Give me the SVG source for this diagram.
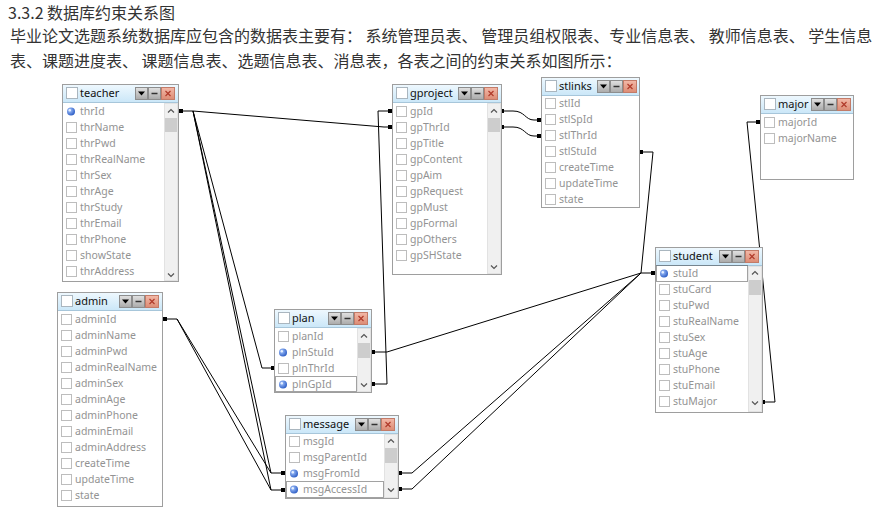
<svg xmlns="http://www.w3.org/2000/svg" xmlns:xlink="http://www.w3.org/1999/xlink" width="892" height="520" viewBox="0 0 892 520">
<defs>
<linearGradient id="tg" x1="0" y1="0" x2="0" y2="1"><stop offset="0" stop-color="#eef8fe"/><stop offset="1" stop-color="#cbe7f8"/></linearGradient>
<linearGradient id="bg" x1="0" y1="0" x2="0" y2="1"><stop offset="0" stop-color="#e2e2e2"/><stop offset="1" stop-color="#a9a9a9"/></linearGradient>
<linearGradient id="rg" x1="0" y1="0" x2="0" y2="1"><stop offset="0" stop-color="#f3b9a8"/><stop offset="1" stop-color="#dc8b74"/></linearGradient>
<radialGradient id="kg" cx="0.35" cy="0.35" r="0.7"><stop offset="0" stop-color="#a9c8ff"/><stop offset="1" stop-color="#2b5cc4"/></radialGradient>
<g id="btns">
<rect x="0.5" y="0.5" width="12" height="12" fill="url(#bg)" stroke="#8d8d8d"/>
<path d="M3,4.5 L10,4.5 L6.5,8.5 Z" fill="#000"/>
<rect x="13.5" y="0.5" width="12" height="12" fill="url(#bg)" stroke="#8d8d8d"/>
<path d="M16.5,6.5 L22.5,6.5" stroke="#333" stroke-width="1.5"/>
<rect x="26.5" y="0.5" width="13" height="12" fill="url(#rg)" stroke="#c27b68"/>
<path d="M30.5,4 L35.5,9 M35.5,4 L30.5,9" stroke="#b03a2a" stroke-width="1.2"/>
</g>
<rect id="cb" x="0.5" y="-4.5" width="10" height="10" fill="#fff" stroke="#bdbdbd"/>
<g id="key"><circle cx="5" cy="0.5" r="4" fill="url(#kg)"/><circle cx="3.8" cy="-0.8" r="1.2" fill="#e6f0ff"/></g>
<path id="up" d="M-3,1.5 L0,-1.5 L3,1.5" fill="none" stroke="#555" stroke-width="1.2"/>
<path id="dn" d="M-3,-1.5 L0,1.5 L3,-1.5" fill="none" stroke="#555" stroke-width="1.2"/>
<rect id="mk" x="-2" y="-2" width="4" height="4" fill="#000"/>
</defs>
<style>
.hd{font-family:"Noto Sans CJK SC","Noto Sans",sans-serif;font-size:16px;fill:#333}
.frame{fill:#fff;stroke:#9e9e9e}
.tbar{fill:url(#tg)}
.tline{stroke:#a7c6da}
.tcb{fill:#fff;stroke:#aab6bf}
.ttl{font-family:"Noto Sans",sans-serif;font-size:11px;fill:#111}
.fld{font-family:"Noto Sans",sans-serif;font-size:10.5px;fill:#939393}
.sb{fill:#f0f0f0;stroke:#e2e2e2}
.thumb{fill:#cdcdcd}
.sel{fill:none;stroke:#444;stroke-dasharray:1 1}
.con{fill:none;stroke:#000;stroke-width:1}
</style>

<g id="heading">
<text class="hd" x="8" y="19" font-size="15">3.3.2 数据库约束关系图</text>
<text class="hd" x="10" y="42">毕业论文选题系统数据库应包含的数据表主要有： 系统管理员表、 管理员组权限表、专业信息表、 教师信息表、 学生信息</text>
<text class="hd" x="10" y="67">表、课题进度表、 课题信息表、选题信息表、消息表，各表之间的约束关系如图所示：</text>
</g>

<g id="connectors">
<path class="con" d="M181,111 L193,111 L384,127 L390,127"/>
<path class="con" d="M373,384 L387,384 L378,111 L390,111"/>
<path class="con" d="M193,111 L262,368 L273,368"/>
<path class="con" d="M193,111 L271,473 L283,473"/>
<path class="con" d="M193,111 L271,490 L283,490"/>
<path class="con" d="M165,319 L177,319 L271,473"/>
<path class="con" d="M177,319 L271,490"/>
<path class="con" d="M400,473 L412,473 L641,273 L653,273"/>
<path class="con" d="M400,489 L412,489 L641,273"/>
<path class="con" d="M373,352 L387,352 L641,273"/>
<path class="con" d="M641,152 L653,152 L641,273"/>
<path class="con" d="M502,111 L513,111 C525,111 525,120 534,120 L539,120"/>
<path class="con" d="M502,127 L513,127 C525,127 525,136 534,136 L539,136"/>
<path class="con" d="M763,402 L775,402 L747,122 L758,122"/>
<use href="#mk" x="181" y="111"/>
<use href="#mk" x="390" y="111"/>
<use href="#mk" x="390" y="127"/>
<use href="#mk" x="373" y="352"/>
<use href="#mk" x="373" y="384"/>
<use href="#mk" x="273" y="368"/>
<use href="#mk" x="283" y="473"/>
<use href="#mk" x="283" y="490"/>
<use href="#mk" x="165" y="319"/>
<use href="#mk" x="400" y="473"/>
<use href="#mk" x="400" y="489"/>
<use href="#mk" x="653" y="273"/>
<use href="#mk" x="641" y="152"/>
<use href="#mk" x="502" y="111"/>
<use href="#mk" x="502" y="127"/>
<use href="#mk" x="539" y="120"/>
<use href="#mk" x="539" y="136"/>
<use href="#mk" x="763" y="402"/>
<use href="#mk" x="758" y="122"/>
</g>

<g id="teacher">
<rect class="frame" x="62.5" y="84.5" width="116" height="197"/>
<rect class="tbar" x="63" y="85" width="115" height="17"/>
<line class="tline" x1="63" y1="102.5" x2="178" y2="102.5"/>
<rect class="tcb" x="66.5" y="87.5" width="11" height="11"/>
<text class="ttl" x="80" y="97">teacher</text>
<use href="#btns" x="135" y="87"/>
<rect class="sb" x="164.5" y="103.5" width="13" height="177"/>
<use href="#up" x="171" y="111"/>
<rect class="thumb" x="165" y="118" width="12" height="14"/>
<use href="#dn" x="171" y="275"/>
<use href="#key" x="66" y="111"/><text class="fld" x="80" y="115">thrId</text>
<use href="#cb" x="66" y="127"/><text class="fld" x="80" y="131">thrName</text>
<use href="#cb" x="66" y="143"/><text class="fld" x="80" y="147">thrPwd</text>
<use href="#cb" x="66" y="159"/><text class="fld" x="80" y="163">thrRealName</text>
<use href="#cb" x="66" y="175"/><text class="fld" x="80" y="179">thrSex</text>
<use href="#cb" x="66" y="191"/><text class="fld" x="80" y="195">thrAge</text>
<use href="#cb" x="66" y="207"/><text class="fld" x="80" y="211">thrStudy</text>
<use href="#cb" x="66" y="223"/><text class="fld" x="80" y="227">thrEmail</text>
<use href="#cb" x="66" y="239"/><text class="fld" x="80" y="243">thrPhone</text>
<use href="#cb" x="66" y="255"/><text class="fld" x="80" y="259">showState</text>
<use href="#cb" x="66" y="271"/><text class="fld" x="80" y="275">thrAddress</text>
</g>

<g id="gproject">
<rect class="frame" x="392.5" y="84.5" width="109" height="190"/>
<rect class="tbar" x="393" y="85" width="108" height="17"/>
<line class="tline" x1="393" y1="102.5" x2="501" y2="102.5"/>
<rect class="tcb" x="396.5" y="87.5" width="11" height="11"/>
<text class="ttl" x="410" y="97">gproject</text>
<use href="#btns" x="458" y="87"/>
<rect class="sb" x="487.5" y="103.5" width="13" height="170"/>
<use href="#up" x="494" y="111"/>
<rect class="thumb" x="488" y="118" width="12" height="14"/>
<use href="#dn" x="494" y="267"/>
<use href="#cb" x="396" y="111"/><text class="fld" x="410" y="115">gpId</text>
<use href="#cb" x="396" y="127"/><text class="fld" x="410" y="131">gpThrId</text>
<use href="#cb" x="396" y="143"/><text class="fld" x="410" y="147">gpTitle</text>
<use href="#cb" x="396" y="159"/><text class="fld" x="410" y="163">gpContent</text>
<use href="#cb" x="396" y="175"/><text class="fld" x="410" y="179">gpAim</text>
<use href="#cb" x="396" y="191"/><text class="fld" x="410" y="195">gpRequest</text>
<use href="#cb" x="396" y="207"/><text class="fld" x="410" y="211">gpMust</text>
<use href="#cb" x="396" y="223"/><text class="fld" x="410" y="227">gpFormal</text>
<use href="#cb" x="396" y="239"/><text class="fld" x="410" y="243">gpOthers</text>
<use href="#cb" x="396" y="255"/><text class="fld" x="410" y="259">gpSHState</text>
</g>

<g id="stlinks">
<rect class="frame" x="541.5" y="77.5" width="98" height="130"/>
<rect class="tbar" x="542" y="78" width="97" height="17"/>
<line class="tline" x1="542" y1="95.5" x2="639" y2="95.5"/>
<rect class="tcb" x="545.5" y="80.5" width="11" height="11"/>
<text class="ttl" x="559" y="90">stlinks</text>
<use href="#btns" x="597" y="80"/>
<use href="#cb" x="545" y="103"/><text class="fld" x="559" y="107">stlId</text>
<use href="#cb" x="545" y="119"/><text class="fld" x="559" y="123">stlSpId</text>
<use href="#cb" x="545" y="135"/><text class="fld" x="559" y="139">stlThrId</text>
<use href="#cb" x="545" y="151"/><text class="fld" x="559" y="155">stlStuId</text>
<use href="#cb" x="545" y="167"/><text class="fld" x="559" y="171">createTime</text>
<use href="#cb" x="545" y="183"/><text class="fld" x="559" y="187">updateTime</text>
<use href="#cb" x="545" y="199"/><text class="fld" x="559" y="203">state</text>
</g>

<g id="major">
<rect class="frame" x="760.5" y="95.5" width="93" height="84"/>
<rect class="tbar" x="761" y="96" width="92" height="17"/>
<line class="tline" x1="761" y1="113.5" x2="853" y2="113.5"/>
<rect class="tcb" x="764.5" y="98.5" width="11" height="11"/>
<text class="ttl" x="778" y="108">major</text>
<use href="#btns" x="811" y="98"/>
<use href="#cb" x="764" y="122"/><text class="fld" x="778" y="126">majorId</text>
<use href="#cb" x="764" y="138"/><text class="fld" x="778" y="142">majorName</text>
</g>

<g id="admin">
<rect class="frame" x="57.5" y="292.5" width="105" height="214"/>
<rect class="tbar" x="58" y="293" width="104" height="17"/>
<line class="tline" x1="58" y1="310.5" x2="162" y2="310.5"/>
<rect class="tcb" x="61.5" y="295.5" width="11" height="11"/>
<text class="ttl" x="75" y="305">admin</text>
<use href="#btns" x="119" y="295"/>
<use href="#cb" x="61" y="319"/><text class="fld" x="75" y="323">adminId</text>
<use href="#cb" x="61" y="335"/><text class="fld" x="75" y="339">adminName</text>
<use href="#cb" x="61" y="351"/><text class="fld" x="75" y="355">adminPwd</text>
<use href="#cb" x="61" y="367"/><text class="fld" x="75" y="371">adminRealName</text>
<use href="#cb" x="61" y="383"/><text class="fld" x="75" y="387">adminSex</text>
<use href="#cb" x="61" y="399"/><text class="fld" x="75" y="403">adminAge</text>
<use href="#cb" x="61" y="415"/><text class="fld" x="75" y="419">adminPhone</text>
<use href="#cb" x="61" y="431"/><text class="fld" x="75" y="435">adminEmail</text>
<use href="#cb" x="61" y="447"/><text class="fld" x="75" y="451">adminAddress</text>
<use href="#cb" x="61" y="463"/><text class="fld" x="75" y="467">createTime</text>
<use href="#cb" x="61" y="479"/><text class="fld" x="75" y="483">updateTime</text>
<use href="#cb" x="61" y="495"/><text class="fld" x="75" y="499">state</text>
</g>

<g id="plan">
<rect class="frame" x="274.5" y="309.5" width="97" height="83"/>
<rect class="tbar" x="275" y="310" width="96" height="17"/>
<line class="tline" x1="275" y1="327.5" x2="371" y2="327.5"/>
<rect class="tcb" x="278.5" y="312.5" width="11" height="11"/>
<text class="ttl" x="292" y="322">plan</text>
<use href="#btns" x="328" y="312"/>
<rect class="sb" x="357.5" y="328.5" width="13" height="63"/>
<use href="#up" x="364" y="336"/>
<rect class="thumb" x="358" y="343" width="12" height="15"/>
<use href="#dn" x="364" y="385"/>
<use href="#cb" x="278" y="336"/><text class="fld" x="292" y="340">planId</text>
<use href="#key" x="278" y="352"/><text class="fld" x="292" y="356">plnStuId</text>
<use href="#cb" x="278" y="368"/><text class="fld" x="292" y="372">plnThrId</text>
<use href="#key" x="278" y="384"/><text class="fld" x="292" y="388">plnGpId</text>
<rect class="sel" x="275.5" y="376.5" width="81" height="15"/>
</g>

<g id="message">
<rect class="frame" x="285.5" y="415.5" width="113" height="83"/>
<rect class="tbar" x="286" y="416" width="112" height="17"/>
<line class="tline" x1="286" y1="433.5" x2="398" y2="433.5"/>
<rect class="tcb" x="289.5" y="418.5" width="11" height="11"/>
<text class="ttl" x="303" y="428">message</text>
<use href="#btns" x="355" y="418"/>
<rect class="sb" x="384.5" y="434.5" width="13" height="63"/>
<use href="#up" x="391" y="441"/>
<rect class="thumb" x="385" y="448" width="12" height="15"/>
<use href="#dn" x="391" y="490"/>
<use href="#cb" x="289" y="441"/><text class="fld" x="303" y="445">msgId</text>
<use href="#cb" x="289" y="457"/><text class="fld" x="303" y="461">msgParentId</text>
<use href="#key" x="289" y="473"/><text class="fld" x="303" y="477">msgFromId</text>
<use href="#key" x="289" y="489"/><text class="fld" x="303" y="493">msgAccessId</text>
<rect class="sel" x="286.5" y="481.5" width="97" height="16"/>
</g>

<g id="student">
<rect class="frame" x="655.5" y="247.5" width="107" height="165"/>
<rect class="tbar" x="656" y="248" width="106" height="17"/>
<line class="tline" x1="656" y1="265.5" x2="762" y2="265.5"/>
<rect class="tcb" x="659.5" y="250.5" width="11" height="11"/>
<text class="ttl" x="673" y="260">student</text>
<use href="#btns" x="719" y="250"/>
<rect class="sb" x="748.5" y="266.5" width="13" height="145"/>
<use href="#up" x="755" y="273"/>
<rect class="thumb" x="749" y="280" width="12" height="15"/>
<use href="#dn" x="755" y="403"/>
<use href="#key" x="659" y="273"/><text class="fld" x="673" y="277">stuId</text>
<use href="#cb" x="659" y="289"/><text class="fld" x="673" y="293">stuCard</text>
<use href="#cb" x="659" y="305"/><text class="fld" x="673" y="309">stuPwd</text>
<use href="#cb" x="659" y="321"/><text class="fld" x="673" y="325">stuRealName</text>
<use href="#cb" x="659" y="337"/><text class="fld" x="673" y="341">stuSex</text>
<use href="#cb" x="659" y="353"/><text class="fld" x="673" y="357">stuAge</text>
<use href="#cb" x="659" y="369"/><text class="fld" x="673" y="373">stuPhone</text>
<use href="#cb" x="659" y="385"/><text class="fld" x="673" y="389">stuEmail</text>
<use href="#cb" x="659" y="401"/><text class="fld" x="673" y="405">stuMajor</text>
<rect class="sel" x="656.5" y="265.5" width="91" height="16"/>
</g>
</svg>
